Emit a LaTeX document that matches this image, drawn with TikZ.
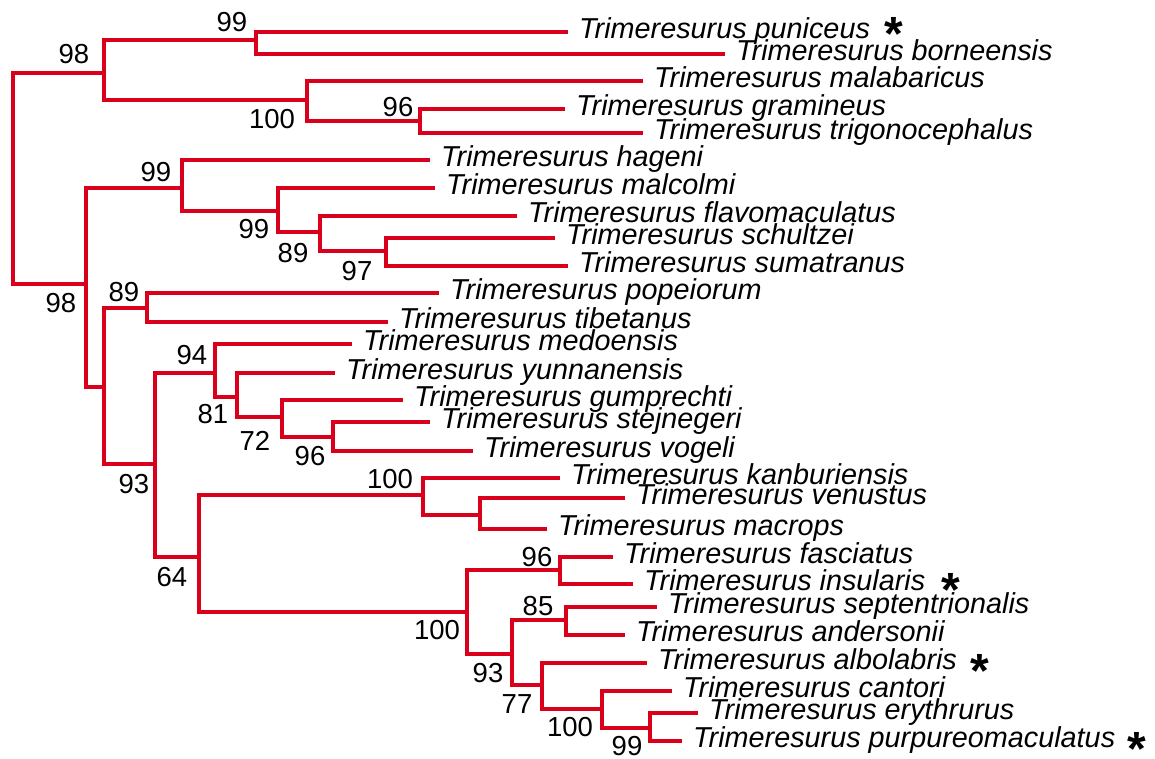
\documentclass[tikz,border=0pt]{standalone}
\usepackage{fontspec}
\setmainfont{Liberation Sans}
\definecolor{treered}{RGB}{218,0,28}
\begin{document}
\begin{tikzpicture}[x=1pt,y=-1pt,
  branch/.style={draw=treered,line width=3.8pt,line cap=rect,line join=miter},
  taxon/.style={anchor=base west,inner sep=0pt,font=\fontsize{28.8}{30}\selectfont\itshape},
  support/.style={inner sep=0pt,font=\fontsize{27.5}{28}\selectfont},
  starmark/.style={anchor=north,inner sep=0pt,font=\fontsize{48}{48}\selectfont\bfseries}]
\useasboundingbox (0,0) rectangle (1155,759);
% internal nodes
\coordinate (root) at (13,178);
\coordinate (A) at (104,72.7);
\coordinate (C) at (256,40);
\coordinate (D) at (307,100);
\coordinate (E) at (420,121);
\coordinate (B) at (86,284);
\coordinate (F) at (182,188);
\coordinate (H) at (278,211);
\coordinate (I) at (320,232);
\coordinate (J) at (386,251);
\coordinate (G) at (104,387);
\coordinate (L) at (147,308);
\coordinate (K) at (155,464);
\coordinate (M) at (215,373);
\coordinate (N) at (237,397);
\coordinate (O) at (282,417);
\coordinate (P) at (333,437);
\coordinate (Q) at (199,557);
\coordinate (R) at (423,495);
\coordinate (Z) at (480,515);
\coordinate (S) at (467,612);
\coordinate (T) at (560,570);
\coordinate (U) at (512,654);
\coordinate (V) at (566,620);
\coordinate (W) at (542,685);
\coordinate (X) at (602,709);
\coordinate (Y) at (650,728);
% leaves
\foreach \n/\x/\y in {puniceus/566/31.7, borneensis/723/54, malabaricus/641/81,
  gramineus/563/109, trigonocephalus/641/133, hageni/428/160, malcolmi/433/188,
  flavomaculatus/515/216, schultzei/553/238, sumatranus/566/266, popeiorum/437/293,
  tibetanus/386/322, medoensis/350/344, yunnanensis/333/373, gumprechti/401/400,
  stejnegeri/428/422, vogeli/471/451, kanburiensis/558/478, venustus/623/498,
  macrops/545/529, fasciatus/611/557, insularis/631/584, septentrionalis/655/607,
  andersonii/623/635, albolabris/645/663, cantori/670/691, erythrurus/696/713,
  purpureomaculatus/680/741}{
  \coordinate (\n) at (\x,\y);
  \node[taxon] (t-\n) at ([xshift=13pt,yshift=-6.5pt]\n) {Trimeresurus \n};
}
% branches
\foreach \p/\c in {root/A, root/B, A/C, A/D, C/puniceus, C/borneensis,
  D/malabaricus, D/E, E/gramineus, E/trigonocephalus,
  B/F, B/G, F/hageni, F/H, H/malcolmi, H/I, I/flavomaculatus, I/J,
  J/schultzei, J/sumatranus, G/L, G/K, L/popeiorum, L/tibetanus,
  K/M, K/Q, M/medoensis, M/N, N/yunnanensis, N/O, O/gumprechti, O/P,
  P/stejnegeri, P/vogeli, Q/R, Q/S, R/kanburiensis, R/Z, Z/venustus, Z/macrops,
  S/T, S/U, T/fasciatus, T/insularis, U/V, U/W, V/septentrionalis, V/andersonii,
  W/albolabris, W/X, X/cantori, X/Y, Y/erythrurus, Y/purpureomaculatus}
  \draw[branch] (\p) |- (\c);
% support values
\node[support] (s-A) at (74,54) {98};
\node[support] (s-C) at (232,22) {99};
\node[support] (s-D) at (272,119) {100};
\node[support] (s-E) at (398,107) {96};
\node[support] (s-B) at (61,303) {98};
\node[support] (s-F) at (156,172) {99};
\node[support] (s-H) at (254,229) {99};
\node[support] (s-I) at (293,253) {89};
\node[support] (s-J) at (357,271) {97};
\node[support] (s-L) at (124,292) {89};
\node[support] (s-M) at (192,355) {94};
\node[support] (s-N) at (213,414) {81};
\node[support] (s-O) at (255,441) {72};
\node[support] (s-P) at (310,456) {96};
\node[support] (s-K) at (134,484) {93};
\node[support] (s-Q) at (172,577) {64};
\node[support] (s-R) at (390,479) {100};
\node[support] (s-S) at (437,630) {100};
\node[support] (s-T) at (537,557) {96};
\node[support] (s-U) at (488,673) {93};
\node[support] (s-V) at (538,606) {85};
\node[support] (s-W) at (517,704) {77};
\node[support] (s-X) at (570,727) {100};
\node[support] (s-Y) at (627,746.5) {99};
% asterisks
\node[starmark] (a-puniceus) at (894,17) {*};
\node[starmark] (a-insularis) at (951,573) {*};
\node[starmark] (a-albolabris) at (980,654) {*};
\node[starmark] (a-purpureo) at (1137,732) {*};
\end{tikzpicture}
\end{document}
